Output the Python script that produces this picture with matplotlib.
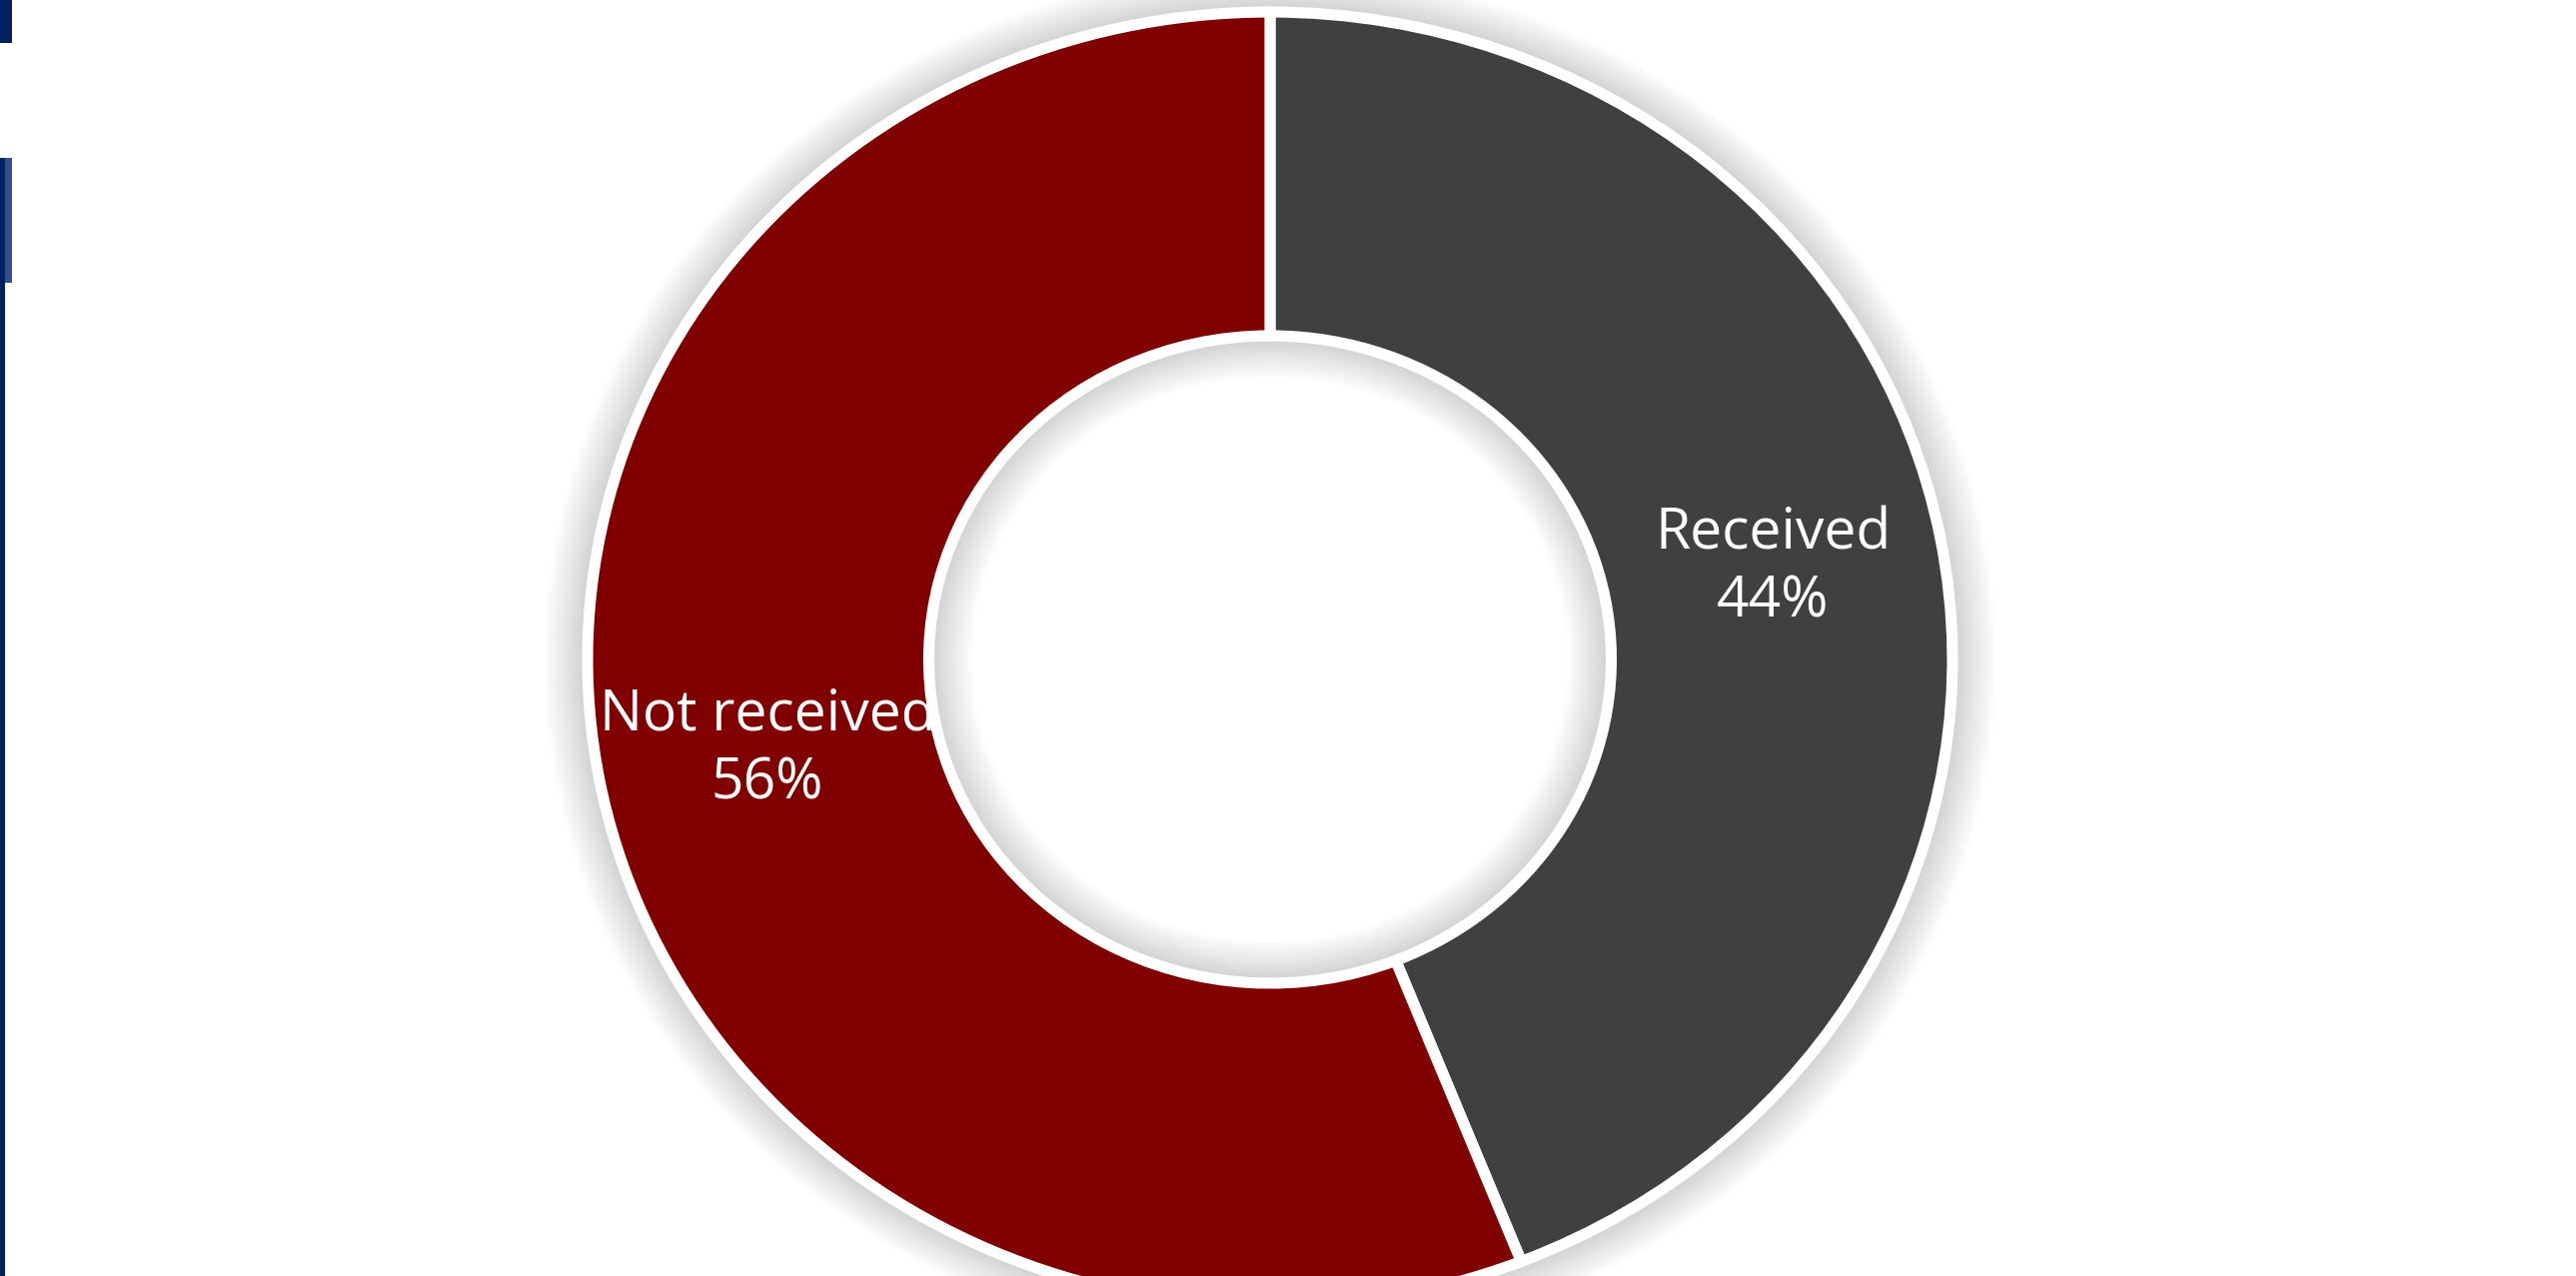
import matplotlib.pyplot as plt
from matplotlib.patches import Rectangle

# data
labels = ['Received', 'Not received']
shares = [44, 56]
colors = ['#404040', '#800000']

W, H = 2578, 1277
CX, CY = 1271, 660          # donut centre in pixels (from top)
RX, RY = 683, 648           # outer radius in pixels (slightly stretched)

fig = plt.figure(figsize=(W / 100, H / 100), dpi=100)
ax = fig.add_axes([0, 0, 1, 1])

# soft grey shadow around the ring, both outside and inside the hole
n_layers = 16
for i in range(n_layers):
    s = 0.004 * (i + 1)
    ax.pie([1], radius=1 + s, colors=['black'], startangle=90,
           wedgeprops=dict(width=0.5 + 2 * s, alpha=0.012, linewidth=0))

wedges, texts, autotexts = ax.pie(
    shares, colors=colors, startangle=90, counterclock=False,
    radius=1, autopct='%d%%', pctdistance=0.75,
    wedgeprops=dict(width=0.5, edgecolor='white', linewidth=8),
    textprops=dict(color='white', fontsize=41, family='Open Sans'))

for t, lab, v in zip(autotexts, labels, shares):
    t.set_text(f'{lab}\n{v}%')
    t.set_linespacing(1.25)
    t.set_ha('center')
    t.set_va('center')

ax.set_aspect('auto')
ax.set_xlim(-CX / RX, (W - CX) / RX)
ax.set_ylim(-(H - CY) / RY, CY / RY)
ax.axis('off')

# navy slivers along the left edge of the original screenshot
navy = '#002060'
def px_rect(x, y, w, h, color):
    fig.patches.append(Rectangle((x / W, 1 - (y + h) / H), w / W, h / H,
                                 transform=fig.transFigure, color=color,
                                 linewidth=0))
px_rect(0, 0, 12, 43, navy)
px_rect(0, 158, 12, 125, '#2f4f8f')
px_rect(0, 158, 5, 125, navy)
px_rect(0, 283, 5, H - 283, navy)

fig.savefig('out.png', dpi=100, facecolor='white')
